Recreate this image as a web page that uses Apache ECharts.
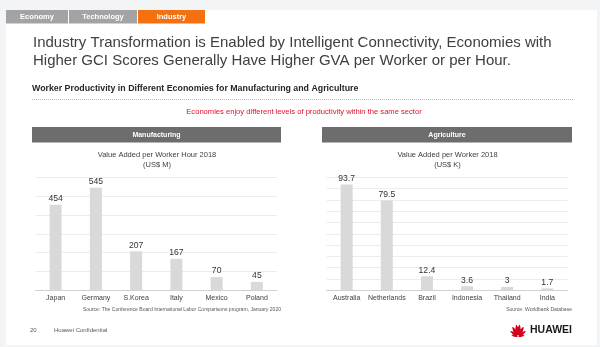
<!DOCTYPE html>
<html><head><meta charset="utf-8">
<script src="https://cdn.jsdelivr.net/npm/echarts@6/dist/echarts.min.js"></script>
<style>html,body{margin:0;padding:0;background:#f3f4f6}#c{width:600px;height:347px}</style>
</head><body><div id="c"></div>
<script>
const tabs = ['Economy', 'Technology', 'Industry'];
const titleLines = ['Industry Transformation is Enabled by Intelligent Connectivity, Economies with',
  'Higher GCI Scores Generally Have Higher GVA per Worker or per Hour.'];
const sectionTitle = 'Worker Productivity in Different Economies for Manufacturing and Agriculture';
const note = 'Economies enjoy different levels of productivity within the same sector';
const mfgTitle = 'Manufacturing';
const mfgSub = ['Value Added per Worker Hour 2018', '(US$ M)'];
const mfgCategories = ['Japan', 'Germany', 'S.Korea', 'Italy', 'Mexico', 'Poland'];
const mfgValues = [454, 545, 207, 167, 70, 45];
const mfgSource = 'Source: The Conference Board International Labor Comparisons program, January 2020';
const agrTitle = 'Agriculture';
const agrSub = ['Value Added per Worker 2018', '(US$ K)'];
const agrCategories = ['Australia', 'Netherlands', 'Brazil', 'Indonesia', 'Thailand', 'India'];
const agrValues = [93.7, 79.5, 12.4, 3.6, 3, 1.7];
const agrSource = 'Source: Worldbank Database';
const footer = ['20', 'Huawei Confidential'];

const FONT = '"Liberation Sans", Arial, sans-serif';
const chart = echarts.init(document.getElementById('c'), null, {renderer: 'canvas'});

function txt(x, y, text, size, color, align, weight) {
  return {type: 'text', x: x, y: y, z: 10, style: {text: text, fill: color,
    font: (weight || 'normal') + ' ' + size + 'px ' + FONT, textAlign: align || 'left', textVerticalAlign: 'middle'}};
}
const g = [];
// card
g.push({type: 'rect', shape: {x: 6, y: 10, width: 591, height: 335}, style: {fill: '#ffffff'}, z: 0});
// tabs
const tabX = [[6, 68], [69, 137], [138, 205]];
tabs.forEach((t, i) => {
  g.push({type: 'rect', shape: {x: tabX[i][0], y: 10, width: tabX[i][1] - tabX[i][0], height: 13.5},
    style: {fill: i === 2 ? '#f5700f' : '#a3a3a5'}, z: 1});
  g.push(txt((tabX[i][0] + tabX[i][1]) / 2, 17, t, 7.5, '#ffffff', 'center', 'bold'));
});
// title
g.push(txt(33, 42.5, titleLines[0], 15, '#404040'));
g.push(txt(33, 61, titleLines[1], 15, '#404040'));
// section
g.push(txt(32, 89, sectionTitle, 8.8, '#262626', 'left', 'bold'));
g.push({type: 'line', shape: {x1: 32, y1: 99.5, x2: 573, y2: 99.5}, style: {stroke: '#b5b5b5', lineWidth: 1, lineDash: [1, 1]}, z: 1});
g.push(txt(304, 112, note, 7.6, '#e0102a', 'center'));
// panel headers
[[32, 281, mfgTitle, mfgSub, mfgSource], [322, 572, agrTitle, agrSub, agrSource]].forEach(p => {
  g.push({type: 'rect', shape: {x: p[0], y: 127, width: p[1] - p[0], height: 15.5}, style: {fill: '#6d6d6d'}, z: 1});
  g.push(txt((p[0] + p[1]) / 2, 135, p[2], 7, '#ffffff', 'center', 'bold'));
  g.push(txt((p[0] + p[1]) / 2 + 0.5, 155, p[3][0], 7.5, '#404040', 'center'));
  g.push(txt((p[0] + p[1]) / 2 + 0.5, 164.5, p[3][1], 7.5, '#404040', 'center'));
  g.push(txt(p[1], 310, p[4], 5.05, '#595959', 'right'));
});
// footer
g.push(txt(30, 330, footer[0], 6, '#595959'));
g.push(txt(54, 330, footer[1], 6, '#595959'));
// Huawei logo petals
(function () {
  const cx = 518, cy = 336.5;
  const petals = [[12, 3.5, 4.6], [35, 5.2, 6.0], [60, 6.2, 7.2], [82, 6.6, 7.6]];
  petals.forEach(pp => {
    [1, -1].forEach(side => {
      const ang = (90 - side * (90 - pp[0])) * Math.PI / 180;
      const dirx = Math.cos(ang), diry = -Math.sin(ang);
      const d = pp[1], a = pp[2] * 0.68, b = pp[2] * 0.22;
      const pts = [];
      for (let k = 0; k < 24; k++) {
        const t = k / 24 * Math.PI * 2;
        const u = a * Math.cos(t) + d, v = b * Math.sin(t) * (1 - 0.35 * Math.cos(t));
        pts.push([cx + u * dirx - v * diry, cy + u * diry + v * dirx]);
      }
      g.push({type: 'polygon', shape: {points: pts}, style: {fill: '#d7001b'}, z: 5});
    });
  });
})();
g.push(txt(530, 330.5, 'HUAWEI', 10.5, '#1a1a1a', 'left', 'bold'));

function xAx(idx, cats) {
  return {type: 'category', gridIndex: idx, data: cats,
    axisLine: {lineStyle: {color: '#d0d0d0', width: 1}}, axisTick: {show: false},
    axisLabel: {interval: 0, hideOverlap: false, fontSize: 7, color: '#404040', margin: 4.5, fontFamily: FONT}};
}
function yAx(idx, max, interval) {
  return {type: 'value', gridIndex: idx, min: 0, max: max, interval: interval,
    axisLine: {show: false}, axisTick: {show: false}, axisLabel: {show: false},
    splitLine: {lineStyle: {color: '#ececec', width: 1}}};
}
function bars(idx, vals) {
  return {type: 'bar', xAxisIndex: idx, yAxisIndex: idx, data: vals, barWidth: 12,
    itemStyle: {color: '#d9d9d9'}, silent: true,
    label: {show: true, position: 'top', distance: 1.5, fontSize: 8.6, color: '#333333', fontFamily: FONT}};
}
chart.setOption({
  animation: false,
  backgroundColor: '#f3f4f6',
  grid: [
    {left: 35.5, width: 241.5, top: 177.3, height: 113},
    {left: 326.6, width: 240.8, top: 177.3, height: 113}
  ],
  xAxis: [xAx(0, mfgCategories), xAx(1, agrCategories)],
  yAxis: [yAx(0, 600, 100), yAx(1, 100, 10)],
  series: [bars(0, mfgValues), bars(1, agrValues)],
  graphic: g
});
</script></body></html>
